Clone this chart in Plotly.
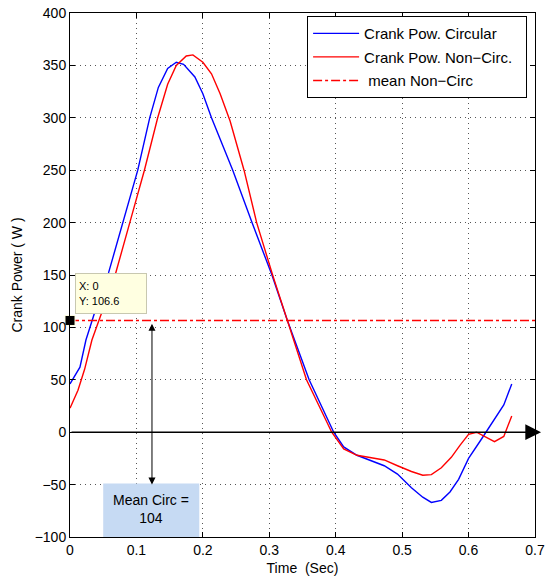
import plotly.graph_objects as go

# ---- data ----
t_circ = [0, 0.015, 0.024, 0.04, 0.058, 0.079, 0.102, 0.12, 0.133, 0.147, 0.16, 0.171,
          0.188, 0.2, 0.213, 0.231, 0.245, 0.274, 0.304, 0.327, 0.36, 0.397, 0.412, 0.432,
          0.453, 0.473, 0.493, 0.514, 0.531, 0.544, 0.559, 0.572, 0.585, 0.6, 0.62, 0.64,
          0.653, 0.665]
p_circ = [46, 62, 88, 120, 152, 200, 250, 300, 329, 347, 353, 351,
          339, 323, 300, 272, 250, 200, 150, 107, 50, 0, -14, -22,
          -27, -32, -40, -53, -62, -67, -65, -57, -45, -25, -6, 13,
          26, 46]

t_noncirc = [0, 0.012, 0.022, 0.033, 0.05, 0.068, 0.09, 0.112, 0.132, 0.147, 0.16, 0.175,
             0.185, 0.2, 0.213, 0.226, 0.241, 0.256, 0.262, 0.281, 0.305, 0.327, 0.356,
             0.394, 0.412, 0.432, 0.453, 0.473, 0.493, 0.514, 0.531, 0.544, 0.559, 0.574,
             0.587, 0.6, 0.612, 0.625, 0.639, 0.653, 0.665]
p_noncirc = [23, 40, 60, 88, 118, 150, 200, 250, 300, 332, 350, 359,
             360, 353, 342, 323, 297, 262, 250, 200, 150, 107, 50,
             0, -16, -22, -24.5, -26.5, -32, -37.5, -41, -40.5, -34, -24,
             -12.5, -2, 0, -4, -9, -4, 15.5]

mean_noncirc = 106.6
mean_circ = 104
x_ticks = [0, 0.1, 0.2, 0.3, 0.4, 0.5, 0.6, 0.7]
x_ticktext = ["0", "0.1", "0.2", "0.3", "0.4", "0.5", "0.6", "0.7"]
y_ticks = [-100, -50, 0, 50, 100, 150, 200, 250, 300, 350, 400]

FONT = "Liberation Sans, Arial, Helvetica, sans-serif"

fig = go.Figure()
fig.add_trace(go.Scatter(x=t_circ, y=p_circ, mode="lines", name="Crank Pow. Circular",
                         line=dict(color="#0000ff", width=1.4), legendgroup="a"))
fig.add_trace(go.Scatter(x=t_noncirc, y=p_noncirc, mode="lines",
                         name="Crank Pow. Non\u2212Circ.\u00a0\u00a0",
                         line=dict(color="#ff0000", width=1.4), legendgroup="b"))
fig.add_trace(go.Scatter(x=[0, 0.7], y=[mean_noncirc, mean_noncirc], mode="lines",
                         name=" mean Non\u2212Circ",
                         line=dict(color="#ff0000", width=1.5, dash="dashdot"), legendgroup="c"))
# data tip marker
fig.add_trace(go.Scatter(x=[0], y=[mean_noncirc], mode="markers", showlegend=False,
                         marker=dict(symbol="square", size=10, color="black",
                                     line=dict(color="#ffffe1", width=1)),
                         cliponaxis=False))

axis_common = dict(showline=True, linecolor="black", linewidth=1, mirror="ticks",
                   ticks="inside", ticklen=5, tickcolor="black",
                   showgrid=True, gridcolor="#555555", gridwidth=1, griddash="1px,4px",
                   zeroline=False, tickfont=dict(family=FONT, size=14, color="black"))

fig.update_layout(
    width=547, height=581,
    margin=dict(l=70, r=12, t=13, b=44),
    paper_bgcolor="white", plot_bgcolor="white",
    font=dict(family=FONT, size=14, color="black"),
    xaxis=dict(range=[0, 0.7], tickvals=x_ticks, ticktext=x_ticktext,
               title=dict(text="Time\u00a0 (Sec)", font=dict(family=FONT, size=14), standoff=6),
               automargin=False, **axis_common),
    yaxis=dict(range=[-100, 400], tickvals=y_ticks,
               title=dict(text="Crank Power ( W )", font=dict(family=FONT, size=14), standoff=8),
               automargin=False, **axis_common),
    legend=dict(x=0.983, y=0.994, xanchor="right", yanchor="top",
                bgcolor="white", bordercolor="black", borderwidth=1,
                font=dict(family=FONT, size=15, color="black"),
                itemwidth=46, tracegroupgap=1, traceorder="grouped"),
    showlegend=True,
)

# Mean Circ box
fig.add_shape(type="rect", xref="x", yref="y", x0=0.05, x1=0.1946, y0=-100, y1=-49,
              fillcolor="#c6daf3", line=dict(width=0), layer="above")
fig.add_annotation(xref="x", yref="y", x=0.1223, y=-73, text="Mean Circ =<br>104",
                   showarrow=False, font=dict(family=FONT, size=14, color="black"))

# vertical double arrow
fig.add_annotation(xref="x", yref="y", x=0.1234, y=-50, axref="x", ayref="y",
                   ax=0.1234, ay=105, text="", showarrow=True,
                   arrowhead=2, startarrowhead=2, arrowside="end+start",
                   arrowsize=1.4, startarrowsize=1.4, arrowwidth=1, arrowcolor="black")

# horizontal zero arrow
fig.add_annotation(xref="paper", yref="y", x=1.013, y=0, axref="pixel", ayref="pixel",
                   ax=-471, ay=0, text="", showarrow=True, arrowhead=2, arrowsize=2.1,
                   arrowwidth=1.5, arrowcolor="black")

# data tip box
fig.add_annotation(xref="x", yref="y", x=0.008, y=152, xanchor="left", yanchor="top",
                   text="X: 0<br>Y: 106.6", showarrow=False, align="left",
                   width=64, height=33, borderpad=3, borderwidth=1,
                   bgcolor="#ffffe1", bordercolor="#c8c8b0",
                   font=dict(family=FONT, size=11, color="black"))

fig.write_html("out.html", config={"displayModeBar": False},
               post_script="document.body.style.margin='0';")
